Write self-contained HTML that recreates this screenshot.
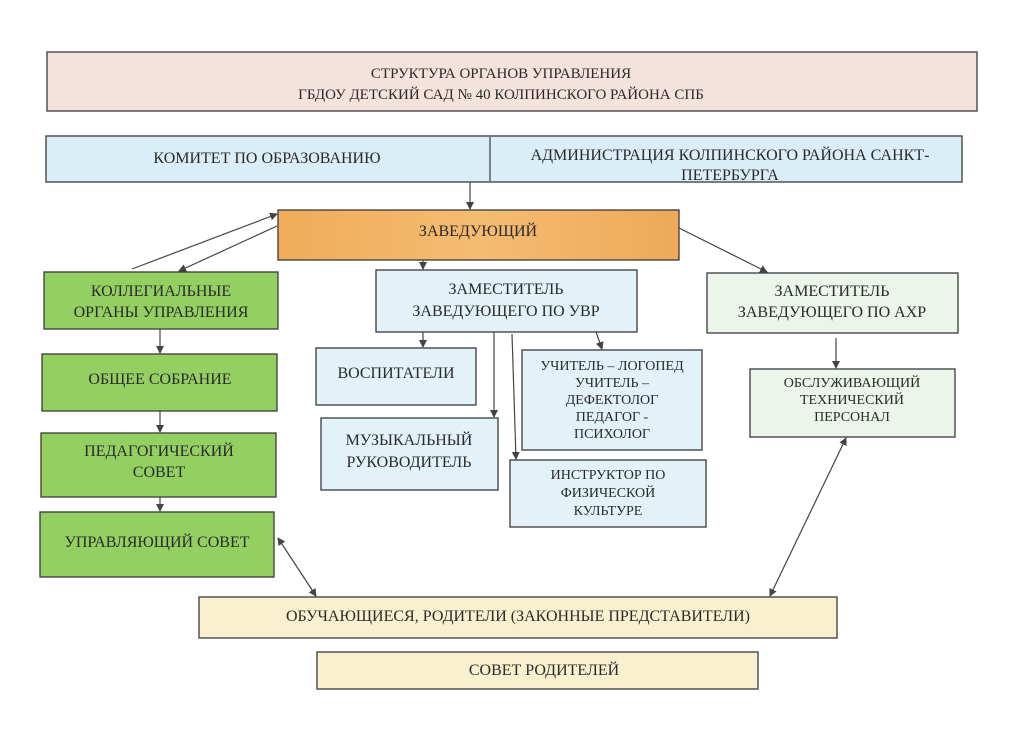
<!DOCTYPE html>
<html><head><meta charset="utf-8"><style>
html,body{margin:0;padding:0;background:#fff;}
svg{display:block;}
text{font-family:"Liberation Serif","Noto Serif CJK SC",serif;fill:#2a2a2a;text-anchor:middle;}
rect{stroke:#3a3a3a;stroke-width:1.3;}
line{stroke:#444;stroke-width:1.2;}
</style></head><body>
<svg width="1024" height="745" viewBox="0 0 1024 745" xmlns="http://www.w3.org/2000/svg">
<defs>
<marker id="a" markerWidth="8" markerHeight="8" refX="7" refY="4" orient="auto" markerUnits="userSpaceOnUse"><path d="M0,0 L8,4 L0,8 z" fill="#444"/></marker>
<marker id="s" markerWidth="8" markerHeight="8" refX="1" refY="4" orient="auto" markerUnits="userSpaceOnUse"><path d="M8,0 L0,4 L8,8 z" fill="#444"/></marker>
<linearGradient id="og" x1="0" x2="1"><stop offset="0" stop-color="#f0ac5a"/><stop offset="0.5" stop-color="#f4bc72"/><stop offset="1" stop-color="#eea95a"/></linearGradient>
</defs>
<rect x="47" y="52" width="930" height="59" fill="#f4e2dd"/>
<text x="501" y="78" font-size="15">СТРУКТУРА ОРГАНОВ УПРАВЛЕНИЯ</text>
<text x="501" y="99" font-size="15">ГБДОУ ДЕТСКИЙ САД № 40 КОЛПИНСКОГО РАЙОНА СПБ</text>

<rect x="46" y="136" width="916" height="46" fill="#d9eef6"/>
<line x1="490" y1="137" x2="490" y2="181" style="stroke:#3a3a3a"/>
<text x="267" y="163" font-size="16">КОМИТЕТ ПО ОБРАЗОВАНИЮ</text>
<text x="730" y="160" font-size="16">АДМИНИСТРАЦИЯ КОЛПИНСКОГО РАЙОНА САНКТ-</text>
<text x="730" y="180" font-size="16">ПЕТЕРБУРГА</text>

<rect x="278" y="210" width="401" height="50" fill="url(#og)"/>
<text x="478" y="236" font-size="16">ЗАВЕДУЮЩИЙ</text>

<rect x="44" y="272" width="234" height="57" fill="#94cf62"/>
<text x="161" y="296" font-size="16">КОЛЛЕГИАЛЬНЫЕ</text>
<text x="161" y="317" font-size="16">ОРГАНЫ УПРАВЛЕНИЯ</text>

<rect x="376" y="270" width="261" height="62" fill="#e2f2f8"/>
<text x="506" y="294" font-size="16">ЗАМЕСТИТЕЛЬ</text>
<text x="506" y="316" font-size="16">ЗАВЕДУЮЩЕГО ПО УВР</text>

<rect x="707" y="273" width="251" height="60" fill="#ebf5ea"/>
<text x="832" y="296" font-size="16">ЗАМЕСТИТЕЛЬ</text>
<text x="832" y="317" font-size="16">ЗАВЕДУЮЩЕГО ПО АХР</text>

<rect x="42" y="354" width="235" height="57" fill="#94cf62"/>
<text x="160" y="384" font-size="16">ОБЩЕЕ СОБРАНИЕ</text>
<rect x="41" y="433" width="235" height="64" fill="#94cf62"/>
<text x="159" y="456" font-size="16">ПЕДАГОГИЧЕСКИЙ</text>
<text x="159" y="477" font-size="16">СОВЕТ</text>
<rect x="40" y="512" width="234" height="65" fill="#94cf62"/>
<text x="157" y="547" font-size="16">УПРАВЛЯЮЩИЙ СОВЕТ</text>

<rect x="316" y="348" width="160" height="57" fill="#e2f2f8"/>
<text x="396" y="378" font-size="16">ВОСПИТАТЕЛИ</text>
<rect x="321" y="418" width="177" height="72" fill="#e2f2f8"/>
<text x="409" y="445" font-size="16">МУЗЫКАЛЬНЫЙ</text>
<text x="409" y="467" font-size="16">РУКОВОДИТЕЛЬ</text>
<rect x="522" y="350" width="180" height="100" fill="#e2f2f8"/>
<text x="612" y="370" font-size="14">УЧИТЕЛЬ – ЛОГОПЕД</text>
<text x="612" y="387" font-size="14">УЧИТЕЛЬ –</text>
<text x="612" y="404" font-size="14">ДЕФЕКТОЛОГ</text>
<text x="612" y="421" font-size="14">ПЕДАГОГ -</text>
<text x="612" y="438" font-size="14">ПСИХОЛОГ</text>
<rect x="510" y="460" width="196" height="67" fill="#e2f2f8"/>
<text x="608" y="479" font-size="14">ИНСТРУКТОР ПО</text>
<text x="608" y="497" font-size="14">ФИЗИЧЕСКОЙ</text>
<text x="608" y="515" font-size="14">КУЛЬТУРЕ</text>

<rect x="750" y="369" width="205" height="68" fill="#ebf5ea"/>
<text x="852" y="387" font-size="14">ОБСЛУЖИВАЮЩИЙ</text>
<text x="852" y="404" font-size="14">ТЕХНИЧЕСКИЙ</text>
<text x="852" y="421" font-size="14">ПЕРСОНАЛ</text>

<rect x="199" y="597" width="638" height="41" fill="#f8f0cf"/>
<text x="518" y="621" font-size="16">ОБУЧАЮЩИЕСЯ, РОДИТЕЛИ (ЗАКОННЫЕ ПРЕДСТАВИТЕЛИ)</text>
<rect x="317" y="652" width="441" height="37" fill="#f8f0cf"/>
<text x="544" y="675" font-size="16">СОВЕТ РОДИТЕЛЕЙ</text>

<line x1="470" y1="182" x2="470" y2="209" marker-end="url(#a)"/>
<line x1="132" y1="269" x2="277" y2="214" marker-end="url(#a)"/>
<line x1="277" y1="226" x2="179" y2="271" marker-end="url(#a)"/>
<line x1="679" y1="228" x2="767" y2="272" marker-end="url(#a)"/>
<line x1="423" y1="260" x2="423" y2="269" marker-end="url(#a)"/>
<line x1="160" y1="329" x2="160" y2="353" marker-end="url(#a)"/>
<line x1="160" y1="411" x2="160" y2="432" marker-end="url(#a)"/>
<line x1="160" y1="497" x2="160" y2="511" marker-end="url(#a)"/>
<line x1="423" y1="332" x2="423" y2="347" marker-end="url(#a)"/>
<line x1="494" y1="332" x2="494" y2="417" marker-end="url(#a)"/>
<line x1="512" y1="334" x2="516" y2="459" marker-end="url(#a)"/>
<line x1="596" y1="332" x2="602" y2="349" marker-end="url(#a)"/>
<line x1="836" y1="338" x2="836" y2="368" marker-end="url(#a)"/>
<line x1="278" y1="538" x2="316" y2="596" marker-start="url(#s)" marker-end="url(#a)"/>
<line x1="846" y1="438" x2="770" y2="596" marker-start="url(#s)" marker-end="url(#a)"/>
</svg>
</body></html>
